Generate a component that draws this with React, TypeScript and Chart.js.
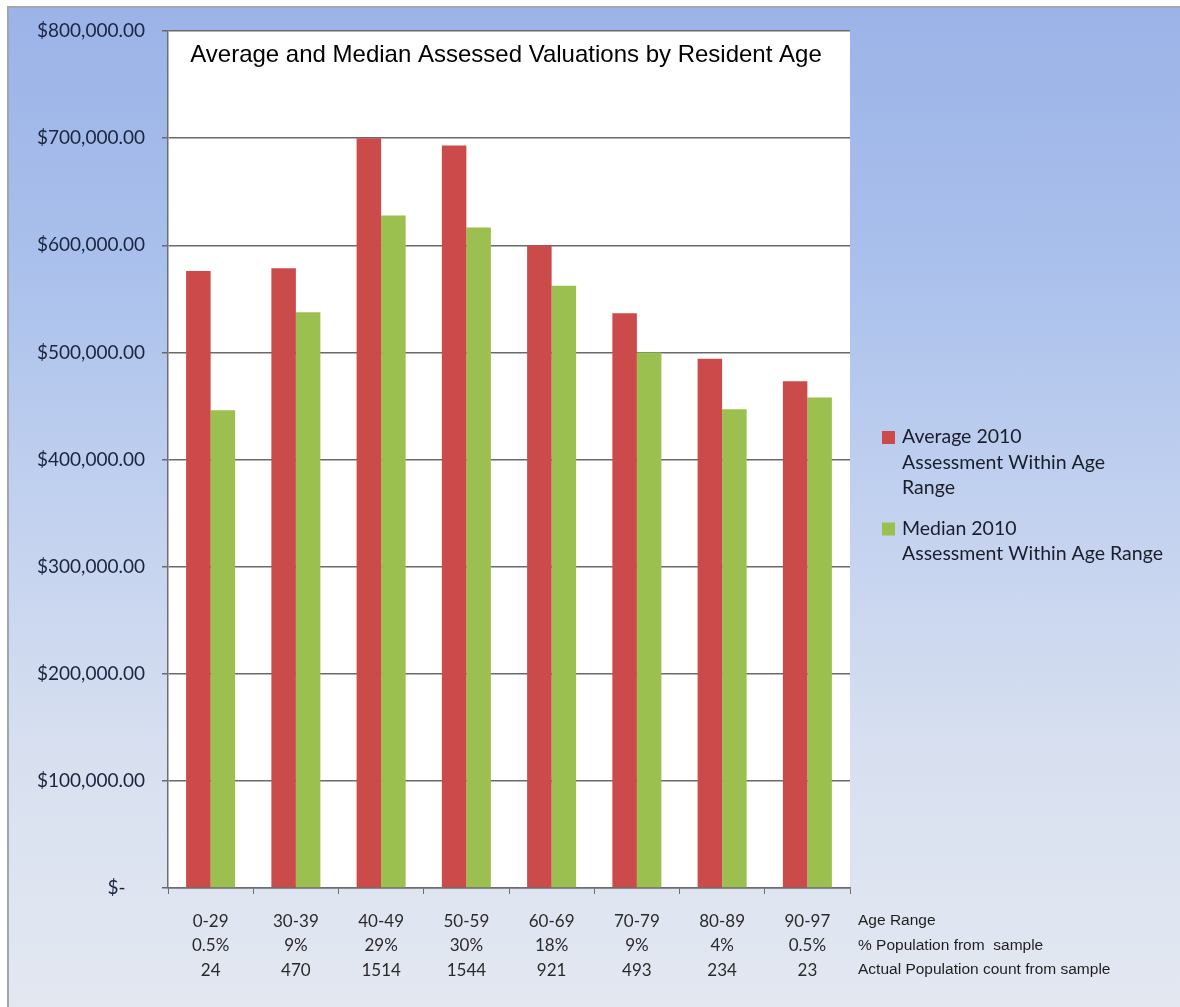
import React, { useEffect, useRef } from 'react';
import { Chart, registerables } from 'chart.js';

Chart.register(...registerables);

const ageRanges = ['0-29', '30-39', '40-49', '50-59', '60-69', '70-79', '80-89', '90-97'];
const popPercent = ['0.5%', '9%', '29%', '30%', '18%', '9%', '4%', '0.5%'];
const popCount = ['24', '470', '1514', '1544', '921', '493', '234', '23'];
const averageValues = [576000, 578500, 700000, 693000, 599700, 536600, 494000, 473000];
const medianValues = [446000, 537500, 627700, 616500, 562300, 500000, 447000, 457800];
const rowLabels = ['Age Range', '% Population from  sample', 'Actual Population count from sample'];
const averageLegend = ['Average 2010', 'Assessment Within Age', 'Range'];
const medianLegend = ['Median 2010', 'Assessment Within Age Range'];
const chartTitle = 'Average and Median Assessed Valuations by Resident Age';
const yMax = 800000;
const yStep = 100000;

const RED = '#cb4a4a';
const GREEN = '#9bc050';

const decorPlugin = {
  id: 'decor',
  beforeDraw(chart: any) {
    const { ctx, chartArea } = chart;
    if (!chartArea) return;
    ctx.save();
    ctx.fillStyle = '#ffffff';
    ctx.fillRect(chartArea.left, chartArea.top, chartArea.right - chartArea.left, chartArea.bottom - chartArea.top);
    ctx.restore();
  },
  afterDraw(chart: any) {
    const { ctx, chartArea } = chart;
    ctx.save();
    // title
    ctx.fillStyle = '#000000';
    ctx.font = '24px "Liberation Sans", Arial, sans-serif';
    ctx.textAlign = 'center';
    ctx.textBaseline = 'middle';
    ctx.fillText(chartTitle, (chartArea.left + chartArea.right) / 2 - 3, chartArea.top + 24);

    // row labels
    ctx.font = '15.5px "Liberation Sans", Arial, sans-serif';
    ctx.textAlign = 'left';
    ctx.fillStyle = '#1e1e1e';
    rowLabels.forEach((t, i) => {
      ctx.fillText(t, chartArea.right + 8, chartArea.bottom + 33 + i * 24.5);
    });

    // legend
    const ds = chart.data.datasets;
    const entries = [
      { lines: averageLegend, color: ds[0].backgroundColor },
      { lines: medianLegend, color: ds[1].backgroundColor },
    ];
    ctx.font = '19.5px Lato, sans-serif';
    ctx.textBaseline = 'middle';
    let y = chartArea.top + 406;
    const lh = 25.5;
    entries.forEach((e) => {
      ctx.fillStyle = e.color;
      ctx.fillRect(chartArea.right + 32, y - 6, 13, 13);
      ctx.fillStyle = '#1a1d2a';
      e.lines.forEach((ln, j) => {
        ctx.fillText(ln, chartArea.right + 52, y + j * lh);
      });
      y += e.lines.length * lh + 15;
    });
    ctx.restore();
  },
};

export default function App() {
  const ref = useRef<HTMLCanvasElement | null>(null);

  useEffect(() => {
    document.body.style.margin = '0';
    const canvas = ref.current;
    if (!canvas) return;
    const chart = new Chart(canvas, {
      type: 'bar',
      data: {
        labels: ageRanges.map((a, i) => [a, popPercent[i], popCount[i]]),
        datasets: [
          { label: averageLegend.join(' '), data: averageValues, backgroundColor: RED, borderWidth: 0 },
          { label: medianLegend.join(' '), data: medianValues, backgroundColor: GREEN, borderWidth: 0 },
        ],
      },
      options: {
        responsive: false,
        animation: false,
        devicePixelRatio: 1,
        layout: { padding: { left: 0, right: 330, top: 31, bottom: 0 } },
        datasets: { bar: { categoryPercentage: 0.575, barPercentage: 1 } },
        plugins: {
          legend: { display: false },
          title: { display: false },
          tooltip: { enabled: false },
        },
        scales: {
          x: {
            offset: true,
            grid: { drawOnChartArea: false, drawTicks: true, tickLength: 6, color: '#6e6e6e', offset: true },
            border: { display: true, color: '#6e6e6e', width: 1.5 },
            ticks: {
              color: '#2a2a2a',
              padding: 15,
              maxRotation: 0,
              autoSkip: false,
              font: { family: 'Lato, sans-serif', size: 17, lineHeight: 1.44 },
            },
            afterFit: (s: any) => { s.height = 119; },
          },
          y: {
            min: 0,
            max: yMax,
            grid: { color: '#6a6a6a', lineWidth: 1.5, tickLength: 6, drawTicks: true },
            border: { display: true, color: '#6e6e6e', width: 1.5 },
            ticks: {
              stepSize: yStep,
              color: '#1c2540',
              padding: 17,
              font: { family: 'Lato, sans-serif', size: 19 },
              callback: (v: any) =>
                Number(v) === 0
                  ? '$-    '
                  : '$' + Number(v).toLocaleString('en-US', { minimumFractionDigits: 2, maximumFractionDigits: 2 }),
            },
            afterFit: (s: any) => { s.width = 168; },
          },
        },
      },
      plugins: [decorPlugin],
    });
    return () => chart.destroy();
  }, []);

  return (
    <div style={{ position: 'relative', width: 1180, height: 1007, background: '#ffffff', overflow: 'hidden' }}>
      <div
        style={{
          position: 'absolute',
          left: 7,
          top: 6,
          right: 0,
          bottom: 0,
          borderLeft: '2px solid #a3a7ad',
          borderTop: '2px solid #a3a7ad',
          background: 'linear-gradient(to bottom, #9bb3e7 0%, #a9c0ec 25%, #c2d1ef 50%, #d8e0f0 75%, #e3e8f1 100%)',
        }}
      />
      <canvas ref={ref} width={1180} height={1007} style={{ position: 'absolute', left: 0, top: 0 }} />
    </div>
  );
}
